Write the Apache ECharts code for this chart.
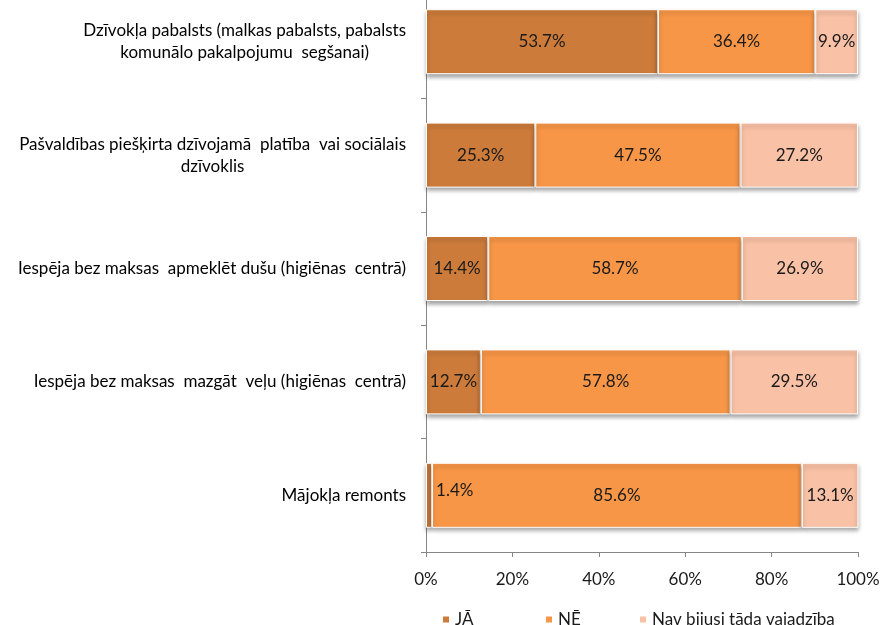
<!DOCTYPE html>
<html>
<head>
<meta charset="utf-8">
<script src="https://cdn.jsdelivr.net/npm/echarts@6/dist/echarts.min.js"></script>
<style>
  html, body { margin: 0; padding: 0; background: #fff; overflow: hidden; }
  /* augšējā josla ir nogriezta kā oriģinālā */
  #chart { width: 883px; height: 640px; margin-top: -15px; }
</style>
</head>
<body>
<div id="chart"></div>
<script>
// kategorijas (no augšas uz leju)
const categories = [
  'Dzīvokļa pabalsts (malkas pabalsts, pabalsts\nkomunālo pakalpojumu  segšanai)',
  'Pašvaldības piešķirta dzīvojamā  platība  vai sociālais\ndzīvoklis',
  'Iespēja bez maksas  apmeklēt dušu (higiēnas  centrā)',
  'Iespēja bez maksas  mazgāt  veļu (higiēnas  centrā)',
  'Mājokļa remonts'
]
const seriesNames = ['JĀ', 'NĒ', 'Nav bijusi tāda vajadzība']
const jaValues = [53.7, 25.3, 14.4, 12.7, 1.4]
const neValues = [36.4, 47.5, 58.7, 57.8, 85.6]
const navValues = [9.9, 27.2, 26.9, 29.5, 13.1]
const xTicks = [0, 20, 40, 60, 80, 100]

const colors = ['#CC7B3A', '#F79647', '#F9C1A5']
const font = 'Lato, "Open Sans", sans-serif'
const fs = 17

const chart = echarts.init(document.getElementById('chart'))

// maza vērtība -> etiķete pa labi no segmenta
const jaData = jaValues.map(v => v < 5 ? {
  value: v,
  label: { position: 'right', distance: 4, offset: [0, -5] }
} : v)

function makeSeries(name, data, i) {
  return {
    name: name,
    type: 'bar',
    stack: 'total',
    data: data,
    barWidth: 65,
    itemStyle: {
      color: colors[i],
      borderColor: '#fff',
      borderWidth: 1,
      shadowColor: 'rgba(0,0,0,0.35)',
      shadowBlur: 4,
      shadowOffsetY: 3
    },
    label: {
      show: true,
      position: 'inside',
      color: '#1a1a1a',
      fontFamily: font,
      fontSize: fs,
      formatter: p => p.value.toFixed(1) + '%'
    }
  }
}

function makeLegend(name, left) {
  return {
    data: [name],
    left: left,
    top: 621,
    icon: 'rect',
    itemWidth: 8,
    itemHeight: 8,
    itemGap: 6,
    textStyle: { fontFamily: font, fontSize: fs, color: '#1a1a1a' }
  }
}

const option = {
  animation: false,
  grid: { left: 426, right: 25, top: 0, bottom: 73 },
  legend: [
    makeLegend(seriesNames[0], 436),
    makeLegend(seriesNames[1], 539),
    makeLegend(seriesNames[2], 633)
  ],
  xAxis: {
    type: 'value',
    min: xTicks[0],
    max: xTicks[xTicks.length - 1],
    interval: 20,
    axisLine: { show: true, lineStyle: { color: '#868686' } },
    axisTick: { show: true, length: 5, lineStyle: { color: '#868686' } },
    splitLine: { show: false },
    axisLabel: {
      margin: 19,
      color: '#1a1a1a',
      fontFamily: font,
      fontSize: fs,
      formatter: '{value}%'
    }
  },
  yAxis: {
    type: 'category',
    inverse: true,
    data: categories,
    axisLine: { show: true, lineStyle: { color: '#868686' } },
    axisTick: { show: true, length: 5, lineStyle: { color: '#868686' } },
    axisLabel: {
      margin: 20,
      color: '#000',
      fontFamily: font,
      fontSize: fs,
      lineHeight: 22,
      formatter: v => v.split('\n').map(l => '{c|' + l + '}').join('\n'),
      rich: {
        c: { align: 'center', fontFamily: font, fontSize: fs, lineHeight: 22, color: '#000' }
      }
    }
  },
  series: [
    makeSeries(seriesNames[0], jaData, 0),
    makeSeries(seriesNames[1], neValues, 1),
    makeSeries(seriesNames[2], navValues, 2)
  ]
}

chart.setOption(option)
</script>
</body>
</html>
